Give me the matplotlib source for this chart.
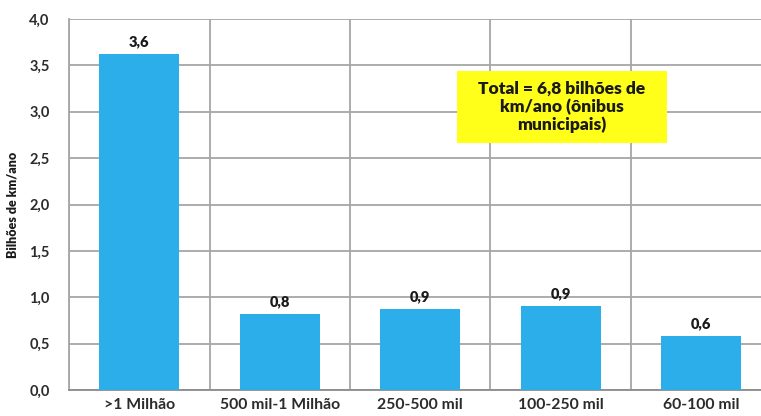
import matplotlib.pyplot as plt
from matplotlib.patches import Rectangle
import numpy as np

plt.rcParams['font.family'] = ['Lato', 'DejaVu Sans']
plt.rcParams['font.weight'] = 'bold'

categorias = ['>1 Milhão', '500 mil-1 Milhão', '250-500 mil', '100-250 mil', '60-100 mil']
km_ano = [3.62, 0.82, 0.87, 0.91, 0.58]
yticks = np.arange(0, 4.01, 0.5)

cor_barra = '#2caeea'
cor_grade = '#a6a6a6'
cor_texto = '#2b2b2b'

fig = plt.figure(figsize=(7.61, 4.16), dpi=100)
# the plot area runs a bit past the right edge of the figure
ax = fig.add_axes([69 / 761, (416 - 390) / 416, 702.5 / 761, 371 / 416])

x = np.arange(len(categorias))
ax.bar(x, km_ano, width=0.57, color=cor_barra, zorder=3)

for xi, v in zip(x, km_ano):
    ax.text(xi, v + 0.06, f'{v:.1f}'.replace('.', ','), ha='center', va='bottom',
            fontsize=10.5, fontweight='heavy', color='#1a1a1a')

ax.set_xlim(-0.5, len(categorias) - 0.5)
ax.set_ylim(0, 4.0)
ax.set_yticks(yticks)
ax.set_yticklabels([f'{t:.1f}'.replace('.', ',') for t in yticks])
ax.set_xticks(x)
ax.set_xticklabels(categorias)
ax.set_xticks(np.arange(-0.5, len(categorias)), minor=True)

ax.grid(axis='y', color=cor_grade, linewidth=1.3, zorder=0)
ax.grid(axis='x', which='minor', color=cor_grade, linewidth=1.3, zorder=0)
ax.grid(axis='x', which='major', visible=False)

ax.tick_params(axis='both', which='both', length=0)
ax.tick_params(axis='y', pad=14, labelsize=10.5, labelcolor=cor_texto)
ax.tick_params(axis='x', pad=6, labelsize=11.3, labelcolor=cor_texto)

for s in ['top', 'right']:
    ax.spines[s].set_visible(False)
ax.spines['left'].set_color(cor_grade)
ax.spines['left'].set_linewidth(1.3)
ax.spines['bottom'].set_color('#8c8c8c')
ax.spines['bottom'].set_linewidth(1.3)

ax.set_ylabel('Bilhões de km/ano', fontsize=9, fontweight='heavy', color='#1a1a1a')
ax.yaxis.set_label_coords(-51 / 702.5, 0.5)

# yellow note box, placed in axes fractions
caixa = Rectangle((0.552, 0.666), 0.299, 0.194, transform=ax.transAxes,
                  facecolor='#ffff1a', edgecolor='none', zorder=5)
ax.add_patch(caixa)
ax.text(0.552 + 0.299 / 2, 0.666 + 0.194 / 2, 'Total = 6,8 bilhões de\nkm/ano (ônibus\nmunicipais)',
        transform=ax.transAxes, ha='center', va='center', fontsize=12.5,
        fontweight='heavy', color='#1a1a1a', linespacing=1.1, zorder=6)

fig.savefig('out.png', dpi=100)
